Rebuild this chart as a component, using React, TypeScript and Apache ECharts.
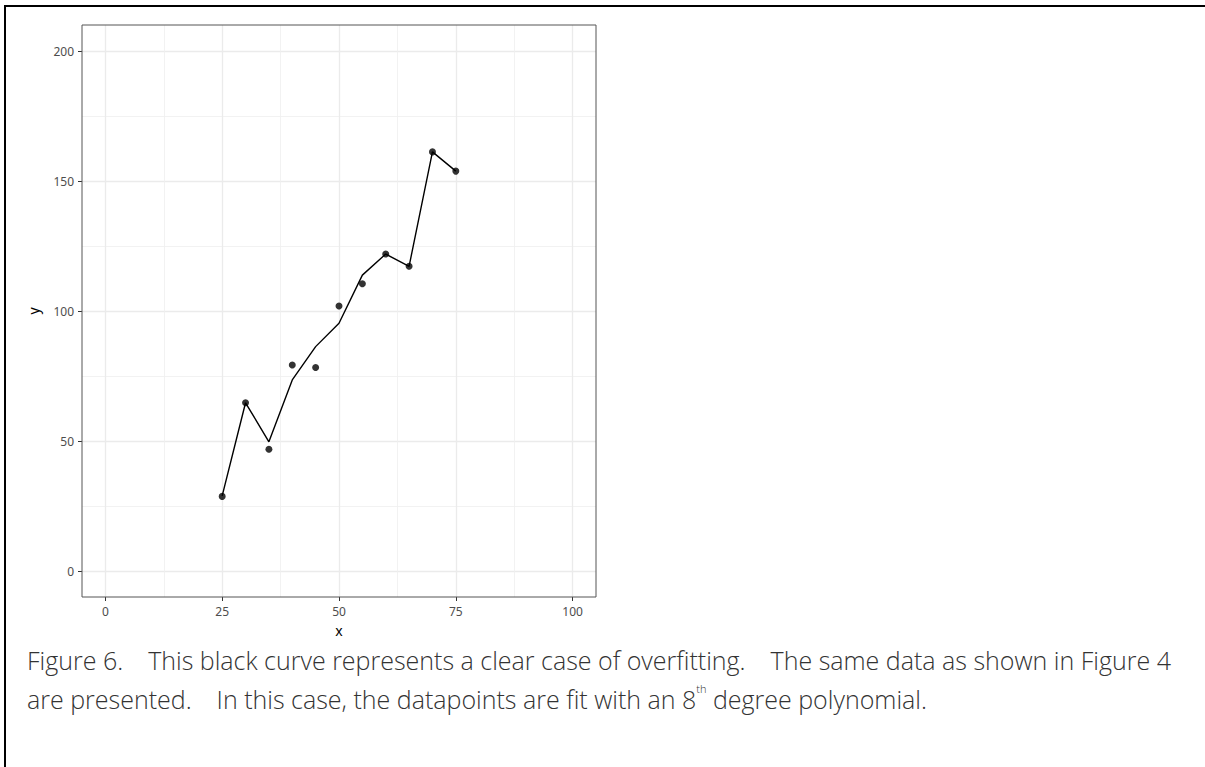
import React, { useEffect, useRef } from "react";
import * as echarts from "echarts";

const xValues = [25, 30, 35, 40, 45, 50, 55, 60, 65, 70, 75];
const yObserved = [28.7, 64.7, 46.8, 79.2, 78.3, 101.9, 110.5, 121.9, 117.2, 161.2, 153.8];
const yFitted = [28.9, 64.7, 49.7, 73.5, 86.3, 95.3, 113.8, 121.9, 117.2, 161.2, 153.8];

const xMajorTicks = [0, 25, 50, 75, 100];
const xMinorTicks = [12.5, 37.5, 62.5, 87.5];
const yMajorTicks = [0, 50, 100, 150, 200];
const yMinorTicks = [25, 75, 125, 175];

const captionLine1 =
  "Figure 6.\u3000This black curve represents a clear case of overfitting.\u3000The same data as shown in Figure 4";
const captionLine2a = "are presented.\u3000In this case, the datapoints are fit with an 8";
const captionSup = "th";
const captionLine2b = " degree polynomial.";

const captionFont = '"Open Sans", "Noto Sans", sans-serif';
const tickFont = '"Noto Sans", Roboto, sans-serif';

export default function App() {
  const ref = useRef<HTMLDivElement>(null);

  useEffect(() => {
    document.body.style.margin = "0";
    const chart = echarts.init(ref.current!, null, { renderer: "svg" });

    const majorLine = { color: "#ebebeb", width: 1.3 };
    const minorLine = { color: "#efefef", width: 0.8 };
    const labelStyle = { color: "#4d4d4d", fontSize: 12, fontFamily: tickFont };
    const capStyle = { fontSize: 25, fontWeight: 300, fontFamily: captionFont, fill: "#333333", lineHeight: 32 };

    chart.setOption({
      animation: false,
      backgroundColor: "#ffffff",
      grid: {
        left: 82,
        top: 25,
        width: 514,
        height: 572,
        show: true,
        borderColor: "#555555",
        borderWidth: 1,
        backgroundColor: "transparent",
        z: 5,
      },
      xAxis: [
        {
          type: "value",
          min: -5,
          max: 105,
          position: "bottom",
          axisLine: { show: false, onZero: false },
          axisTick: { show: true, length: 4, lineStyle: { color: "#333333" }, customValues: xMajorTicks },
          axisLabel: { ...labelStyle, margin: 8, customValues: xMajorTicks },
          splitLine: { show: true, lineStyle: majorLine },
          name: "x",
          nameLocation: "middle",
          nameGap: 26,
          nameTextStyle: { color: "#000000", fontSize: 14, fontFamily: tickFont },
        },
        {
          type: "value",
          min: -5,
          max: 105,
          position: "bottom",
          axisLine: { show: false, onZero: false },
          axisTick: { show: false, customValues: xMinorTicks },
          axisLabel: { show: false, customValues: xMinorTicks },
          splitLine: { show: true, lineStyle: minorLine },
        },
      ],
      yAxis: [
        {
          type: "value",
          min: -10,
          max: 210,
          position: "left",
          axisLine: { show: false, onZero: false },
          axisTick: { show: true, length: 4, lineStyle: { color: "#333333" }, customValues: yMajorTicks },
          axisLabel: { ...labelStyle, margin: 8, customValues: yMajorTicks },
          splitLine: { show: true, lineStyle: majorLine },
          name: "y",
          nameLocation: "middle",
          nameGap: 42,
          nameTextStyle: { color: "#000000", fontSize: 14, fontFamily: tickFont },
        },
        {
          type: "value",
          min: -10,
          max: 210,
          position: "left",
          axisLine: { show: false, onZero: false },
          axisTick: { show: false, customValues: yMinorTicks },
          axisLabel: { show: false, customValues: yMinorTicks },
          splitLine: { show: true, lineStyle: minorLine },
        },
      ],
      series: [
        {
          type: "line",
          xAxisIndex: 0,
          yAxisIndex: 0,
          data: xValues.map((x, i) => [x, yFitted[i]]),
          showSymbol: false,
          lineStyle: { color: "#000000", width: 1.4 },
          z: 3,
        },
        {
          type: "scatter",
          xAxisIndex: 0,
          yAxisIndex: 0,
          data: xValues.map((x, i) => [x, yObserved[i]]),
          symbolSize: 7,
          itemStyle: { color: "#000000" },
          z: 4,
        },
      ],
      graphic: [
        {
          type: "line",
          shape: { x1: 5, y1: 6, x2: 1205, y2: 6 },
          style: { stroke: "#000000", lineWidth: 2 },
        },
        {
          type: "line",
          shape: { x1: 5, y1: 5, x2: 5, y2: 767 },
          style: { stroke: "#000000", lineWidth: 2 },
        },
        {
          type: "text",
          left: 27,
          top: 647,
          style: {
            text: `{a|${captionLine1}}`,
            rich: { a: capStyle },
          },
        },
        {
          type: "text",
          left: 27,
          top: 683,
          style: {
            text: `{a|${captionLine2a}}{s|${captionSup}}{a|${captionLine2b}}`,
            rich: {
              a: capStyle,
              s: { fontSize: 11, fontWeight: 300, fontFamily: captionFont, fill: "#333333", verticalAlign: "top", lineHeight: 14 },
            },
          },
        },
      ],
    });

    return () => chart.dispose();
  }, []);

  return (
    <div
      ref={ref}
      style={{ position: "absolute", left: 0, top: 0, width: 1205, height: 767, background: "#fff" }}
    />
  );
}
